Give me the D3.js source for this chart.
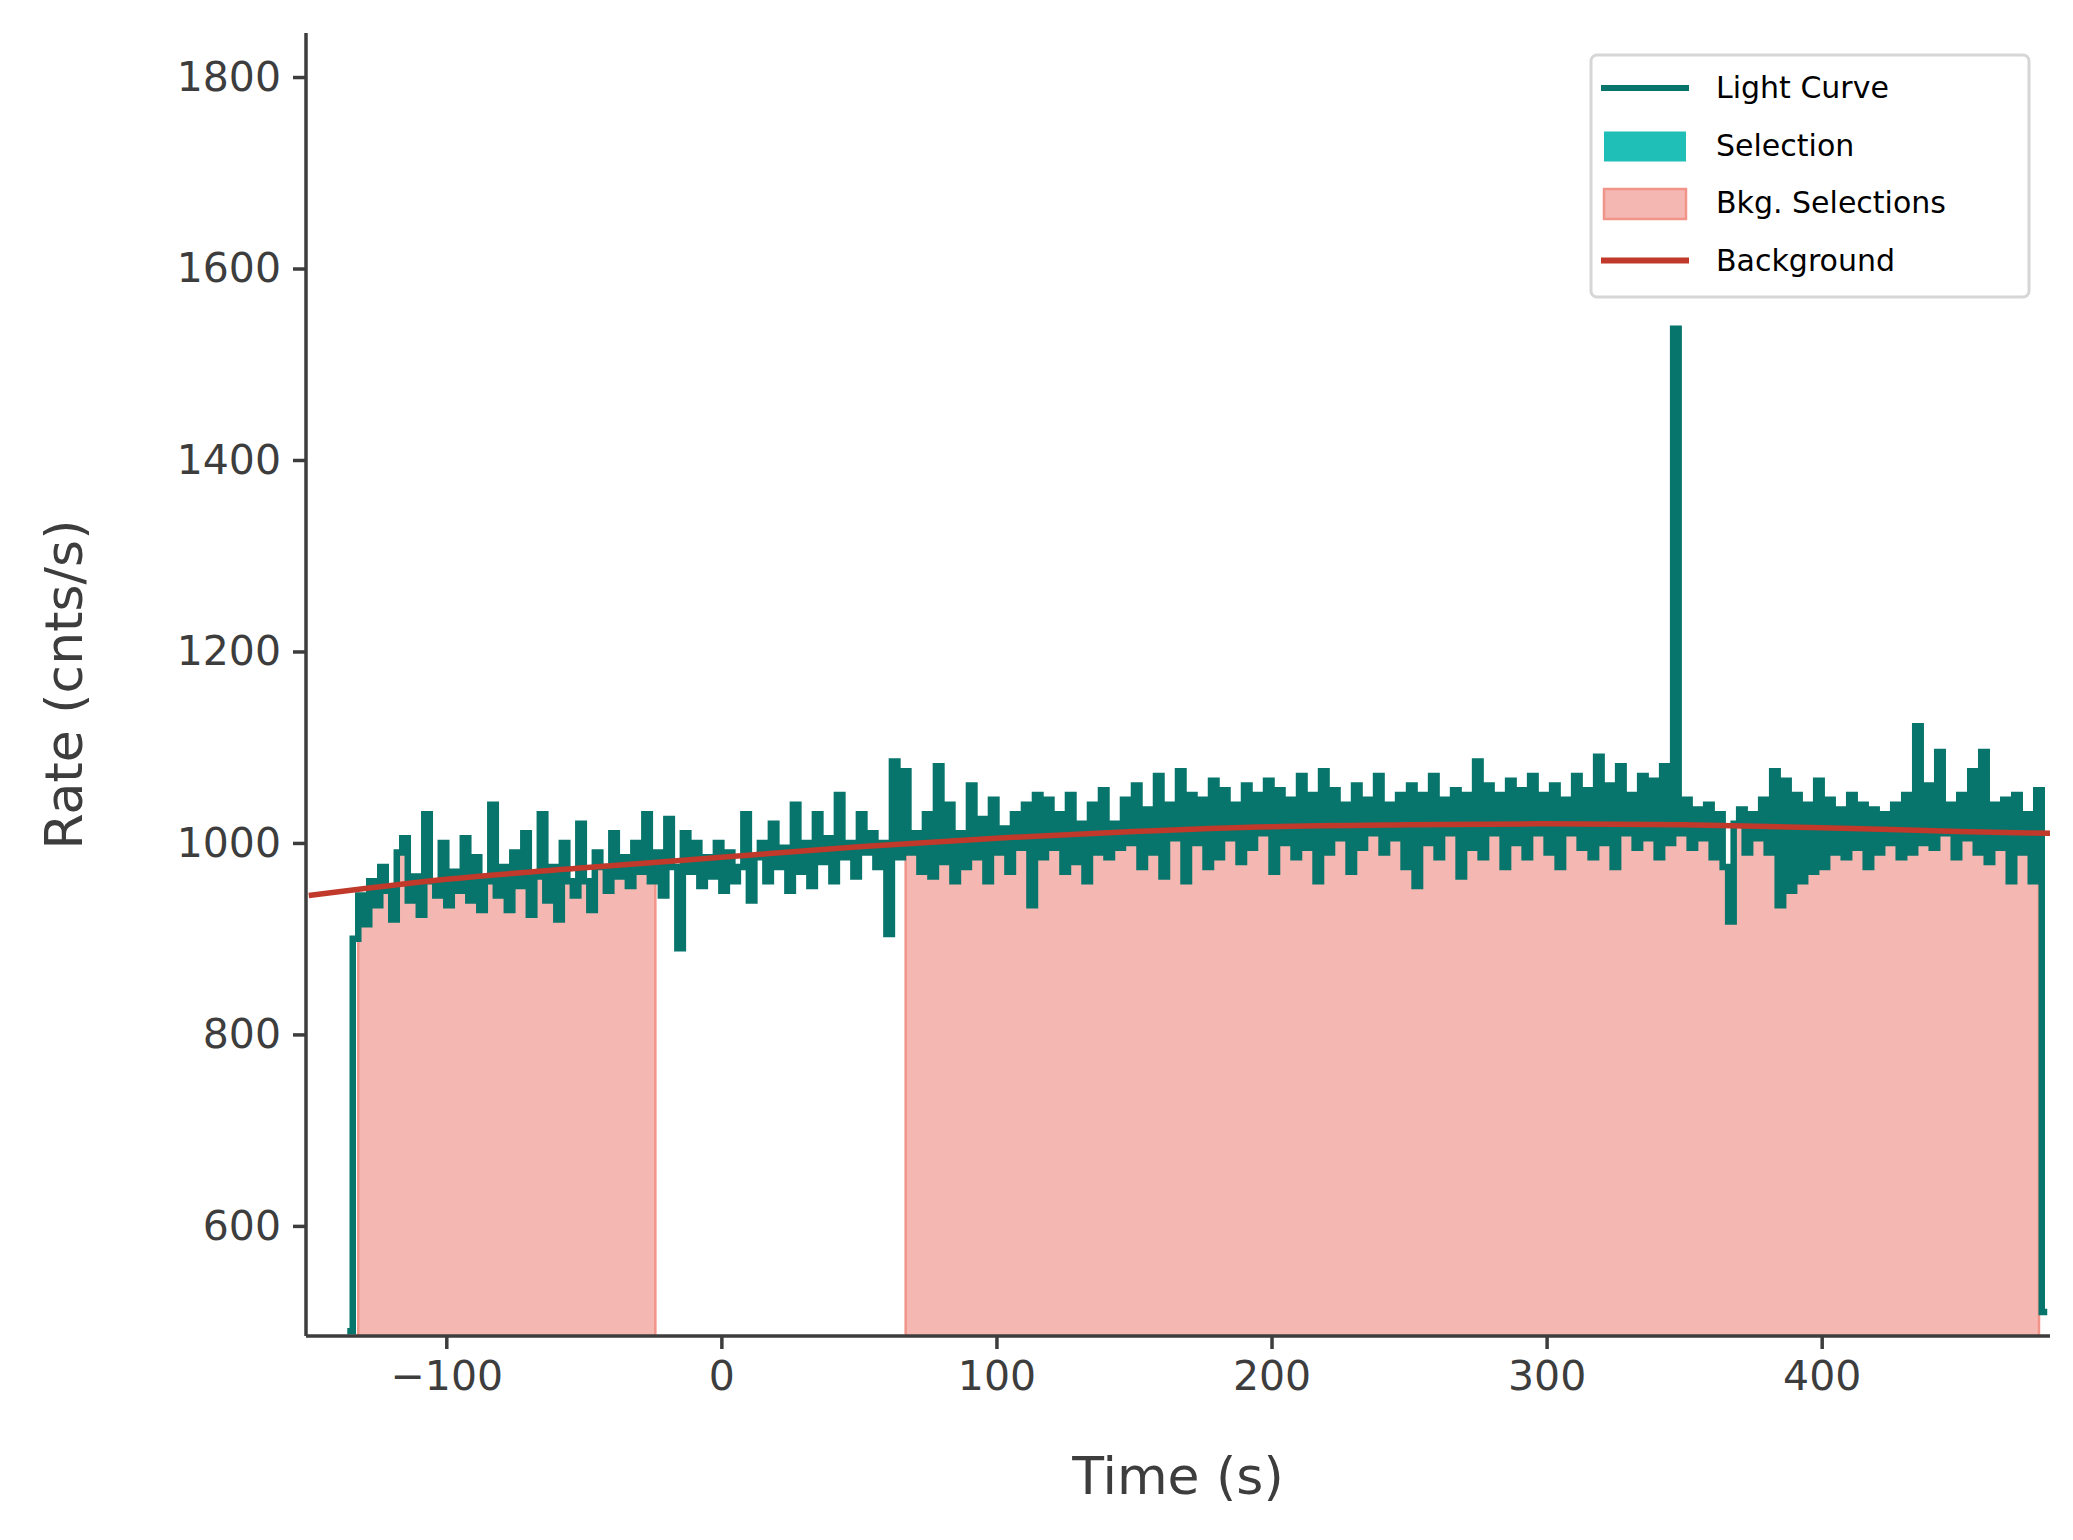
<!DOCTYPE html>
<html lang="en">
<head>
  <meta charset="UTF-8">
  <title>Light curve</title>
  <style>
    html, body { margin: 0; padding: 0; background: #fff; }
    svg { display: block; font-family: 'DejaVu Sans', sans-serif; }
    .axis path, .axis line { stroke: #3d3d3d; stroke-width: 3.5; }
  </style>
</head>
<body>
  <svg id="chart" width="2073" height="1540"></svg>
  <script src="https://d3js.org/d3.v7.min.js"></script>
  <script>
    // light curve: step bins starting at binStart, binWidth seconds wide
    const binStart = -136;
    const binWidth = 2;
    const rates = [490,
      900, 945, 915, 960, 935, 975, 950, 920, 990, 1005, 940, 965, 925, 1030, 960, 945, 1000, 935, 970, 950,
      1005, 940, 985, 930, 960, 1040, 945, 975, 930, 990, 955, 1010, 925, 965, 1030, 940, 975, 920, 1000, 960,
      945, 1020, 960, 930, 990, 975, 950, 1010, 965, 985, 955, 1000, 970, 1030, 960, 990, 945, 1025, 975, 890,
      1010, 970, 1000, 955, 985, 965, 1000, 950, 990, 960, 975, 1030, 940, 985, 1000, 960, 1020, 975, 995, 950,
      1040, 970, 1000, 955, 1030, 980, 1005, 960, 1050, 985, 1000, 965, 1030, 990, 1010, 975, 1000, 905, 1085, 985,
      1075, 990, 1010, 970, 1030, 965, 1080, 980, 1040, 960, 1010, 975, 1060, 985, 1025, 960, 1045, 990, 1015, 970,
      1030, 995, 1040, 935, 1050, 985, 1045, 995, 1030, 970, 1050, 980, 1020, 960, 1040, 990, 1055, 985, 1020, 995,
      1045, 1000, 1060, 975, 1035, 990, 1070, 965, 1040, 1005, 1075, 960, 1050, 1000, 1045, 975, 1065, 985, 1055, 1005,
      1040, 980, 1060, 995, 1050, 1010, 1065, 970, 1055, 1000, 1045, 985, 1070, 995, 1050, 960, 1075, 990, 1055, 1005,
      1040, 970, 1060, 995, 1045, 1010, 1070, 990, 1040, 1005, 1050, 975, 1060, 955, 1050, 1000, 1070, 985, 1045, 1010,
      1055, 965, 1050, 995, 1085, 985, 1060, 1010, 1050, 975, 1065, 1000, 1055, 985, 1070, 1010, 1050, 990, 1060, 975,
      1045, 1010, 1070, 995, 1055, 985, 1090, 1000, 1060, 975, 1080, 1010, 1050, 995, 1070, 1005, 1065, 985, 1080, 1000,
      1537, 1010, 1045, 995, 1035, 1005, 1040, 985, 1030, 975, 918, 1020, 1035, 990, 1030, 1005, 1045, 990, 1075, 935,
      1065, 950, 1050, 960, 1040, 970, 1065, 975, 1045, 990, 1035, 985, 1050, 995, 1040, 975, 1035, 990, 1030, 1000,
      1040, 985, 1050, 990, 1122, 1000, 1060, 995, 1095, 1010, 1040, 985, 1050, 1005, 1075, 990, 1095, 980, 1040, 995,
      1045, 960, 1050, 990, 1030, 960, 1055, 510];

    const bkgSelections = [[-132, -24], [67, 479]];

    const bkgTimes = [-150, -100, -50, 0, 50, 100, 150, 200, 250, 300, 350, 400, 450, 483];
    const bkgRates = [945, 962, 974, 985, 996, 1005, 1012, 1017, 1019, 1020, 1019, 1016, 1012, 1010];

    const xTicks = [-100, 0, 100, 200, 300, 400];
    const yTicks = [600, 800, 1000, 1200, 1400, 1600, 1800];

    const legendItems = ["Light Curve", "Selection", "Bkg. Selections", "Background"];

    const lcColor = "#07756b", bkgColor = "#c0392b", selColor = "#1fbfb8";
    const bkgFill = "#f5b7b1", bkgEdge = "#f1948a";

    const svg = d3.select("#chart");
    const L = 306, R = 2050, T = 33, B = 1336;

    const x = d3.scaleLinear().domain([-151, 483]).range([L, R]);
    const y = d3.scaleLinear().domain([485, 1846]).range([B, T]);

    // step points (post), with a closing point at end of last bin
    const pts = rates.map((r, i) => [binStart + i * binWidth, r]);
    pts.push([binStart + rates.length * binWidth, rates[rates.length - 1]]);

    const defs = svg.append("defs");
    defs.append("clipPath").attr("id", "plot").append("rect")
      .attr("x", L).attr("y", T).attr("width", R - L).attr("height", B - T);

    // background selections filled up to the light curve
    bkgSelections.forEach((s, i) => {
      defs.append("clipPath").attr("id", "sel" + i).append("rect")
        .attr("x", x(s[0])).attr("y", T).attr("width", x(s[1]) - x(s[0])).attr("height", B - T);
      svg.append("path")
        .datum(pts)
        .attr("clip-path", `url(#sel${i})`)
        .attr("fill", bkgFill)
        .attr("d", d3.area().curve(d3.curveStepAfter)
          .x(d => x(d[0])).y0(B).y1(d => y(d[1])));
      s.forEach(t => {
        svg.append("line")
          .attr("x1", x(t)).attr("x2", x(t))
          .attr("y1", B).attr("y2", y(rates[Math.floor((t - binStart) / binWidth)]))
          .attr("stroke", bkgEdge).attr("stroke-width", 2.5);
      });
    });

    // light curve
    svg.append("path")
      .datum(pts)
      .attr("clip-path", "url(#plot)")
      .attr("fill", "none")
      .attr("stroke", lcColor)
      .attr("stroke-width", 6.5)
      .attr("d", d3.line().curve(d3.curveStepAfter).x(d => x(d[0])).y(d => y(d[1])));

    // background model
    svg.append("path")
      .datum(bkgTimes.map((t, i) => [t, bkgRates[i]]))
      .attr("clip-path", "url(#plot)")
      .attr("fill", "none")
      .attr("stroke", bkgColor)
      .attr("stroke-width", 5.5)
      .attr("d", d3.line().curve(d3.curveMonotoneX).x(d => x(d[0])).y(d => y(d[1])));

    // axes (left and bottom only)
    const fmt = d => d < 0 ? "\u2212" + Math.abs(d) : String(d);
    const xa = svg.append("g").attr("class", "axis")
      .attr("transform", `translate(0,${B})`)
      .call(d3.axisBottom(x).tickValues(xTicks).tickFormat(fmt).tickSize(13).tickPadding(12).tickSizeOuter(0));
    const ya = svg.append("g").attr("class", "axis")
      .attr("transform", `translate(${L},0)`)
      .call(d3.axisLeft(y).tickValues(yTicks).tickFormat(fmt).tickSize(13).tickPadding(12).tickSizeOuter(0));
    [xa, ya].forEach(a => a.attr("font-size", 41).attr("font-family", "'DejaVu Sans', sans-serif")
      .selectAll("text").attr("fill", "#3d3d3d"));
    xa.select(".domain").attr("d", `M${L},0H${R}`);
    ya.select(".domain").attr("d", `M0,${T}V${B}`);

    svg.append("text").attr("x", (L + R) / 2).attr("y", 1494)
      .attr("text-anchor", "middle").attr("fill", "#3d3d3d").attr("font-size", 52)
      .text("Time (s)");
    svg.append("text").attr("transform", `translate(82,${(T + B) / 2}) rotate(-90)`)
      .attr("text-anchor", "middle").attr("fill", "#3d3d3d").attr("font-size", 52)
      .text("Rate (cnts/s)");

    // legend
    const lg = svg.append("g");
    lg.append("rect").attr("x", 1591).attr("y", 55).attr("width", 438).attr("height", 242)
      .attr("rx", 6).attr("fill", "#fff").attr("stroke", "#d6d6d6").attr("stroke-width", 3);
    legendItems.forEach((name, i) => {
      const cy = 88 + i * 57.5;
      if (i === 0 || i === 3) {
        lg.append("line").attr("x1", 1601).attr("x2", 1689).attr("y1", cy).attr("y2", cy)
          .attr("stroke", i === 0 ? lcColor : bkgColor).attr("stroke-width", 6);
      } else {
        lg.append("rect").attr("x", 1604).attr("y", cy - 14).attr("width", 82).attr("height", 30)
          .attr("fill", i === 1 ? selColor : bkgFill)
          .attr("stroke", i === 1 ? "none" : bkgEdge).attr("stroke-width", 2.5);
      }
      lg.append("text").attr("x", 1716).attr("y", cy + 10).attr("font-size", 30).attr("fill", "#000")
        .text(name);
    });
  </script>
</body>
</html>
